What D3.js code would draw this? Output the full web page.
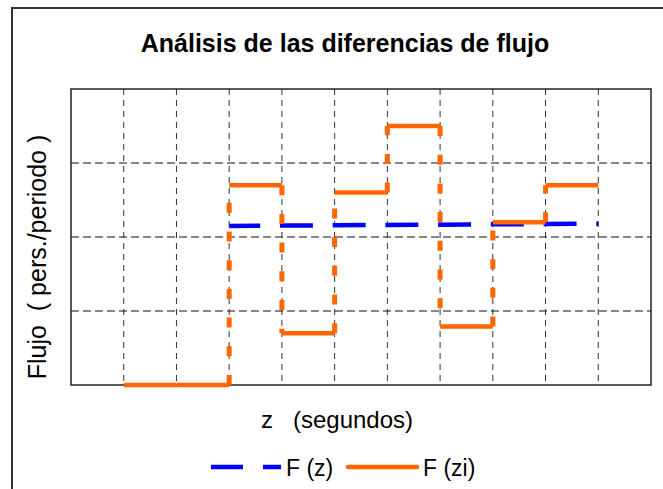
<!DOCTYPE html>
<html>
<head>
<meta charset="utf-8">
<script src="https://cdn.jsdelivr.net/npm/d3@7"></script>
<style>
  html, body { margin: 0; padding: 0; background: #fff; }
  svg { display: block; font-family: "Liberation Sans", Arial, sans-serif; }
  svg text { white-space: pre; }
</style>
</head>
<body>
<svg id="chart" width="663" height="489"></svg>
<script>
// ---- Data ----
const titleText = "Análisis de las diferencias de flujo";
const xLabel = "z   (segundos)";
const yLabel = "Flujo  ( pers./periodo )";
const seriesNames = ["F (z)", "F (zi)"];

// F(z): continuous flow (dashed blue)
const zX = [3, 10];
const zY = [2.15, 2.18];

// F(zi): stepwise flow per interval (start of interval, value)
const ziStart = [1, 2, 3, 4, 5, 6, 7, 8, 9];
const ziVal   = [0, 0, 2.7, 0.7, 2.6, 3.5, 0.79, 2.2, 2.7];

const xDomain = [0, 11];
const yDomain = [0, 4];
const xGrid = [1, 2, 3, 4, 5, 6, 7, 8, 9, 10];
const yGrid = [1, 2, 3];

// ---- Drawing ----
const svg = d3.select("#chart");
const plot = { left: 71, right: 651, top: 89, bottom: 385 };
const x = d3.scaleLinear().domain(xDomain).range([plot.left, plot.right]);
const y = d3.scaleLinear().domain(yDomain).range([plot.bottom, plot.top]);

// outer frame
svg.append("path")
  .attr("d", "M12,489 L12,8 L663,8")
  .attr("fill", "none").attr("stroke", "#333").attr("stroke-width", 2);

// title
svg.append("text")
  .attr("x", 345).attr("y", 52)
  .attr("text-anchor", "middle")
  .attr("font-size", 25).attr("font-weight", "bold")
  .text(titleText);

// grid
const g = svg.append("g");
g.selectAll(".vg").data(xGrid).enter().append("line")
  .attr("x1", d => x(d)).attr("x2", d => x(d))
  .attr("y1", plot.top).attr("y2", plot.bottom)
  .attr("stroke", "#333").attr("stroke-width", 1).attr("stroke-dasharray", "6,5");
g.selectAll(".hg").data(yGrid).enter().append("line")
  .attr("y1", d => y(d)).attr("y2", d => y(d))
  .attr("x1", plot.left).attr("x2", plot.right)
  .attr("stroke", "#111").attr("stroke-width", 1).attr("stroke-dasharray", "8,4");

// plot border
g.append("rect")
  .attr("x", plot.left).attr("y", plot.top)
  .attr("width", plot.right - plot.left).attr("height", plot.bottom - plot.top)
  .attr("fill", "none").attr("stroke", "#222").attr("stroke-width", 1.5);

// F(z) line
const zLine = d3.line().x((d, i) => x(zX[i])).y(d => y(d));
svg.append("path")
  .datum(zY)
  .attr("d", zLine)
  .attr("fill", "none").attr("stroke", "#0000ff").attr("stroke-width", 4.5)
  .attr("stroke-dasharray", "33,19.73")
  .attr("stroke-dashoffset", 2);

// F(zi) horizontals (solid)
svg.selectAll(".zih").data(ziStart).enter().append("line")
  .attr("x1", d => x(d)).attr("x2", d => x(d + 1))
  .attr("y1", (d, i) => y(ziVal[i])).attr("y2", (d, i) => y(ziVal[i]))
  .attr("stroke", "#ff6600").attr("stroke-width", 4.5);

// F(zi) verticals (dashed)
const jumps = ziStart.slice(1).map((d, i) => ({ xv: d, from: ziVal[i], to: ziVal[i + 1] }))
  .filter(j => j.from !== j.to);
svg.selectAll(".ziv").data(jumps).enter().append("line")
  .attr("x1", d => x(d.xv)).attr("x2", d => x(d.xv))
  .attr("y1", d => y(d.from)).attr("y2", d => y(d.to))
  .attr("stroke", "#ff6600").attr("stroke-width", 5)
  .attr("stroke-dasharray", "10,18.7");

// axis labels
svg.append("text")
  .attr("x", 337).attr("y", 428)
  .attr("text-anchor", "middle").attr("font-size", 24)
  .text(xLabel);
svg.append("text")
  .attr("transform", "translate(46,257) rotate(-90)")
  .attr("text-anchor", "middle").attr("font-size", 25)
  .text(yLabel);

// legend
const leg = svg.append("g");
leg.append("line")
  .attr("x1", 211).attr("x2", 281).attr("y1", 467).attr("y2", 467)
  .attr("stroke", "#0000ff").attr("stroke-width", 4.5).attr("stroke-dasharray", "32,20");
leg.append("text").attr("x", 286).attr("y", 476).attr("font-size", 23).text(seriesNames[0]);
leg.append("line")
  .attr("x1", 348).attr("x2", 417).attr("y1", 467).attr("y2", 467)
  .attr("stroke", "#ff6600").attr("stroke-width", 4.5).attr("stroke-linecap", "round");
leg.append("text").attr("x", 423).attr("y", 476).attr("font-size", 23).text(seriesNames[1]);
</script>
</body>
</html>
